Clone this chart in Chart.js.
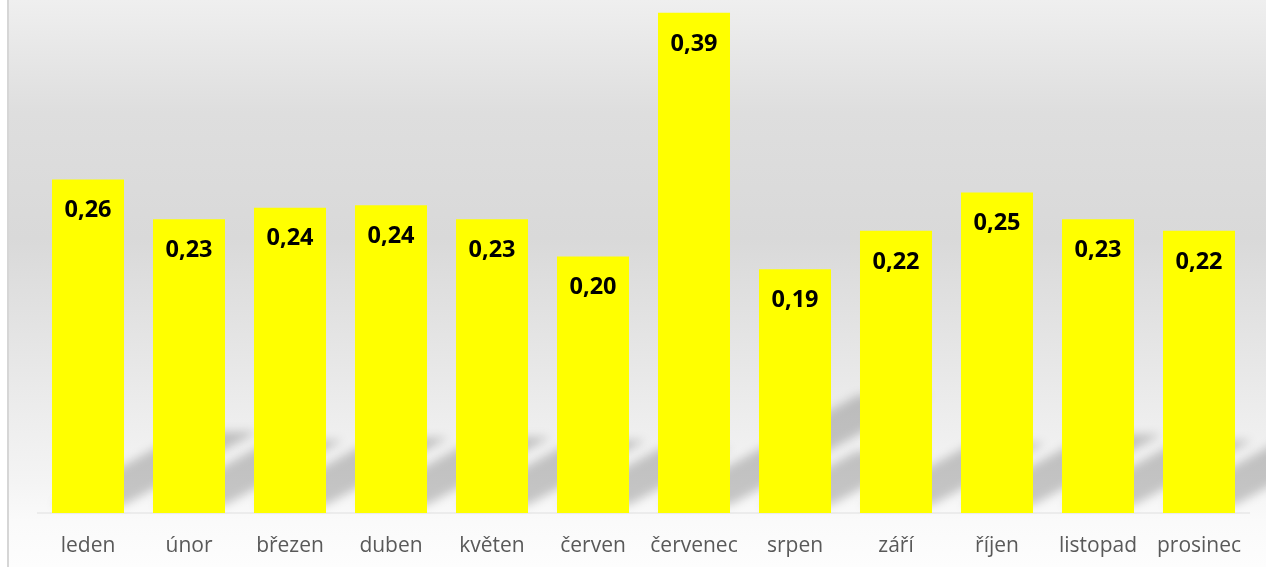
<!DOCTYPE html>
<html>
<head>
<meta charset="utf-8">
<script src="https://cdn.jsdelivr.net/npm/chart.js@4.4.1/dist/chart.umd.min.js"></script>
<style>
  html, body { margin: 0; padding: 0; background: #fff; }
  #wrap { width: 1266px; height: 567px; }
</style>
</head>
<body>
<div id="wrap"><canvas id="myChart" width="1266" height="567"></canvas></div>
<script>
let months = ['leden', 'únor', 'březen', 'duben', 'květen', 'červen', 'červenec', 'srpen', 'září', 'říjen', 'listopad', 'prosinec'];
let values = [0.26, 0.229, 0.238, 0.240, 0.229, 0.200, 0.390, 0.190, 0.220, 0.250, 0.229, 0.220];
let barColor = '#FFFF00';

// gray gradient behind the plot + thin left frame line
let backdrop = {
    id: 'backdrop',
    beforeDraw: function(chart) {
        let ctx = chart.ctx;
        let h = chart.height;
        ctx.save();
        ctx.fillStyle = '#ffffff';
        ctx.fillRect(0, 0, chart.width, h);
        let g = ctx.createLinearGradient(0, 0, 0, h);
        g.addColorStop(0, '#efefef');
        g.addColorStop(0.2, '#dedede');
        g.addColorStop(0.42, '#d9d9d9');
        g.addColorStop(0.7, '#ebebeb');
        g.addColorStop(0.85, '#f4f4f4');
        g.addColorStop(0.92, '#fafafa');
        g.addColorStop(1, '#fdfdfd');
        ctx.fillStyle = g;
        ctx.fillRect(9, 0, chart.width - 9, h);
        ctx.fillStyle = '#d6d6d6';
        ctx.fillRect(7, 0, 2, h);
        ctx.restore();
    }
};

// slanted soft shadows cast by the bars, lying back on the "floor"
let barShadows = {
    id: 'barShadows',
    beforeDatasetsDraw: function(chart) {
        let ctx = chart.ctx;
        let meta = chart.getDatasetMeta(0);
        ctx.save();
        ctx.filter = 'blur(5px)';
        ctx.fillStyle = 'rgba(0,0,0,0.2)';
        meta.data.forEach(function(bar) {
            let half = bar.width / 2;
            let hgt = bar.base - bar.y;
            let dy = hgt * 0.22;
            let dx = dy / 0.55;
            let b = bar.base - 8;
            ctx.beginPath();
            ctx.moveTo(bar.x - half, b);
            ctx.lineTo(bar.x + half, b);
            ctx.lineTo(bar.x + half + dx, b - dy);
            ctx.lineTo(bar.x - half + dx, b - dy);
            ctx.closePath();
            ctx.fill();
        });
        ctx.restore();
    }
};

// value labels inside the top of each bar
let valueLabels = {
    id: 'valueLabels',
    afterDatasetsDraw: function(chart) {
        let ctx = chart.ctx;
        let meta = chart.getDatasetMeta(0);
        ctx.save();
        ctx.font = 'bold 23.5px "Open Sans"';
        ctx.fillStyle = '#000000';
        ctx.textAlign = 'center';
        ctx.textBaseline = 'middle';
        meta.data.forEach(function(bar, i) {
            let txt = values[i].toFixed(2).replace('.', ',');
            ctx.fillText(txt, bar.x, bar.y + 31);
        });
        ctx.restore();
    }
};

let chart = new Chart(document.getElementById('myChart').getContext('2d'), {
    type: 'bar',
    data: {
        labels: months,
        datasets: [{
            data: values,
            backgroundColor: barColor,
            barPercentage: 0.713,
            categoryPercentage: 1.0
        }]
    },
    options: {
        responsive: false,
        animation: false,
        layout: { padding: { left: 37.5, right: 16.5, top: 0, bottom: 0 } },
        plugins: { legend: { display: false }, tooltip: { enabled: false } },
        scales: {
            x: {
                afterFit: function(scale) { scale.height = 54; },
                grid: { display: false, drawTicks: false },
                border: { display: true, color: '#ececec', width: 2 },
                ticks: { color: '#595959', padding: 20, font: { family: '"Open Sans"', size: 21 } }
            },
            y: {
                display: false,
                min: 0,
                max: 0.4
            }
        }
    },
    plugins: [backdrop, barShadows, valueLabels]
});
</script>
</body>
</html>
